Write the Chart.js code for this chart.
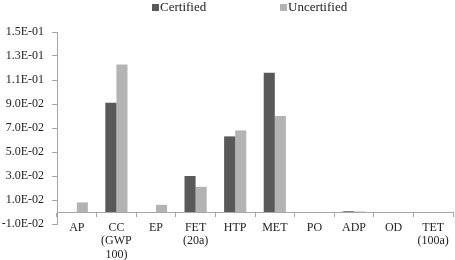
<!DOCTYPE html>
<html><head><meta charset="utf-8">
<script src="https://cdn.jsdelivr.net/npm/chart.js@4"></script>
<style>html,body{margin:0;padding:0;background:#fff}#wrap{width:455px;height:260px;position:relative}</style>
</head><body><div id="wrap"><canvas id="c"></canvas></div>
<script>
const categories = [['AP'],['CC','(GWP','100)'],['EP'],['FET','(20a)'],['HTP'],['MET'],['PO'],['ADP'],['OD'],['TET','(100a)']];
const seriesNames = ['Certified', 'Uncertified'];
const certified = [0, 0.091, 0, 0.030, 0.063, 0.116, 0, 0.0006, 0, 0];
const uncertified = [0.008, 0.123, 0.006, 0.021, 0.068, 0.080, 0, 0.0004, 0, 0];
const yTicks = [-0.01, 0.01, 0.03, 0.05, 0.07, 0.09, 0.11, 0.13, 0.15];

const FONT = '"Liberation Serif", "Times New Roman", serif';
const AXIS = '#a6a6a6';
function fmt(v){
  const parts = Number(v).toExponential(1).split('e');
  const n = parseInt(parts[1], 10);
  return parts[0] + 'E' + (n < 0 ? '-' : '+') + String(Math.abs(n)).padStart(2, '0');
}
const legendPlugin = {
  id: 'customLegend',
  afterDraw(chart){
    const ctx = chart.ctx;
    const xs = [152, 280];
    ctx.save();
    ctx.font = '13px ' + FONT;
    ctx.textBaseline = 'middle';
    chart.data.datasets.forEach((ds, i) => {
      ctx.fillStyle = ds.backgroundColor;
      ctx.fillRect(xs[i], 4, 7, 7);
      ctx.fillStyle = '#222';
      ctx.fillText(ds.label, xs[i] + 8, 8);
    });
    ctx.restore();
  }
};
new Chart(document.getElementById('c'), {
  type: 'bar',
  data: {
    labels: categories,
    datasets: [
      {label: seriesNames[0], data: certified, backgroundColor: '#595959'},
      {label: seriesNames[1], data: uncertified, backgroundColor: '#b3b3b3'}
    ]
  },
  options: {
    responsive: true, maintainAspectRatio: false, animation: false,
    layout: {padding: {top: 32, bottom: 36, left: 0, right: 2}},
    datasets: {bar: {categoryPercentage: 0.56, barPercentage: 1.0}},
    plugins: {legend: {display: false}, tooltip: {enabled: false}},
    scales: {
      x: {
        position: {y: 0},
        grid: {offset: true, drawOnChartArea: false, drawTicks: true, tickLength: 4, color: AXIS},
        border: {display: true, color: AXIS},
        ticks: {autoSkip: false, maxRotation: 0, padding: 5, color: '#222', font: {family: FONT, size: 12, lineHeight: 1.12}}
      },
      y: {
        min: -0.01, max: 0.15,
        afterBuildTicks: (s) => { s.ticks = yTicks.map(v => ({value: v})); },
        afterFit: (s) => { s.width = 57; },
        grid: {drawOnChartArea: false, drawTicks: true, tickLength: 5, color: AXIS},
        border: {display: true, color: AXIS},
        ticks: {padding: 8, color: '#222', font: {family: FONT, size: 12}, callback: (v) => fmt(v)}
      }
    }
  },
  plugins: [legendPlugin]
});
</script></body></html>
